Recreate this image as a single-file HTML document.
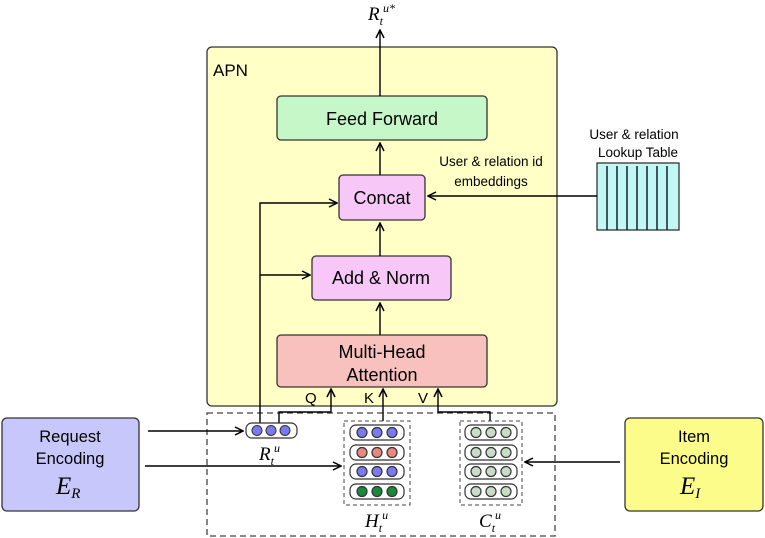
<!DOCTYPE html>
<html><head><style>body{margin:0;background:#fff}svg{display:block;font-family:"Liberation Sans",sans-serif}</style></head><body>
<svg width="765" height="538" viewBox="0 0 765 538">
<defs><marker id="a" markerWidth="10" markerHeight="10" refX="9" refY="5" orient="auto" markerUnits="userSpaceOnUse"><path d="M1,1 L9,5 L1,9" fill="none" stroke="#000" stroke-width="1.5"/></marker></defs>
<rect x="207" y="47" width="350" height="359" rx="5" fill="#ffffc6" stroke="#333" stroke-width="1.3"/>
<text x="213" y="76" font-size="17">APN</text>
<rect x="277" y="96" width="210" height="44" rx="4" fill="#c6f7c8" stroke="#333" stroke-width="1.3"/>
<text x="382" y="125" font-size="18" text-anchor="middle">Feed Forward</text>
<rect x="339" y="175" width="86" height="45" rx="4" fill="#f7c7f7" stroke="#333" stroke-width="1.3"/>
<text x="382" y="204" font-size="18" text-anchor="middle">Concat</text>
<rect x="312" y="256" width="139" height="44" rx="4" fill="#f7c7f7" stroke="#333" stroke-width="1.3"/>
<text x="381" y="284" font-size="18" text-anchor="middle">Add &amp; Norm</text>
<rect x="277" y="335" width="210" height="52" rx="4" fill="#f8c1bd" stroke="#333" stroke-width="1.3"/>
<text x="382" y="358" font-size="18" text-anchor="middle">Multi-Head</text>
<text x="382" y="381" font-size="18" text-anchor="middle">Attention</text>
<rect x="207" y="413" width="348" height="123" fill="none" stroke="#444" stroke-width="1.3" stroke-dasharray="6,4"/>
<rect x="2" y="418" width="137" height="93" rx="5" fill="#c7c7fc" stroke="#333" stroke-width="1.3"/>
<text x="70" y="442" font-size="16.5" text-anchor="middle">Request</text>
<text x="70" y="464" font-size="16.5" text-anchor="middle">Encoding</text>
<text x="56" y="494" font-size="25" font-style="italic" font-family="Liberation Serif">E<tspan font-size="15" dy="4">R</tspan></text>
<rect x="625" y="418" width="138" height="93" rx="5" fill="#fcfc8a" stroke="#333" stroke-width="1.3"/>
<text x="694" y="442" font-size="16.5" text-anchor="middle">Item</text>
<text x="694" y="464" font-size="16.5" text-anchor="middle">Encoding</text>
<text x="680" y="494" font-size="25" font-style="italic" font-family="Liberation Serif">E<tspan font-size="15" dy="4">I</tspan></text>
<text x="634" y="139" font-size="13.5" text-anchor="middle">User &amp; relation</text>
<text x="638" y="157" font-size="13.5" text-anchor="middle">Lookup Table</text>
<rect x="597" y="163" width="82" height="67" fill="#c2f7f4" stroke="#333" stroke-width="1.3"/>
<g stroke="#123" stroke-width="1.5"><line x1="607" y1="166" x2="607" y2="230"/><line x1="617" y1="166" x2="617" y2="230"/><line x1="627" y1="166" x2="627" y2="230"/><line x1="637" y1="166" x2="637" y2="230"/><line x1="647" y1="166" x2="647" y2="230"/><line x1="657" y1="166" x2="657" y2="230"/><line x1="667" y1="166" x2="667" y2="230"/></g>
<text x="491" y="166" font-size="13.5" text-anchor="middle">User &amp; relation id</text>
<text x="491" y="186" font-size="13.5" text-anchor="middle">embeddings</text>
<g fill="none" stroke="#000" stroke-width="1.4">
<line x1="380" y1="96" x2="380" y2="30" marker-end="url(#a)"/>
<line x1="380" y1="175" x2="380" y2="143" marker-end="url(#a)"/>
<line x1="380" y1="256" x2="380" y2="223" marker-end="url(#a)"/>
<line x1="380" y1="335" x2="380" y2="303" marker-end="url(#a)"/>
<line x1="597" y1="196" x2="428" y2="196" marker-end="url(#a)"/>
<polyline points="260,423 260,203 337,203" marker-end="url(#a)"/>
<line x1="260" y1="275" x2="310" y2="275" marker-end="url(#a)"/>
<polyline points="279,423 279,412 331,412 331,389" marker-end="url(#a)"/>
<line x1="383" y1="421" x2="383" y2="389" marker-end="url(#a)"/>
<polyline points="490,421 490,412 438,412 438,389" marker-end="url(#a)"/>
<line x1="148" y1="431" x2="243" y2="431" marker-end="url(#a)"/>
<line x1="145" y1="466" x2="341" y2="466" marker-end="url(#a)"/>
<line x1="620" y1="462" x2="525" y2="462" marker-end="url(#a)"/>
</g>
<text x="305" y="403" font-size="15">Q</text>
<text x="364" y="403" font-size="15">K</text>
<text x="418" y="403" font-size="15">V</text>
<rect x="246" y="423" width="51" height="15" rx="6" fill="#fff" stroke="#333" stroke-width="1.2"/>
<g stroke="#333"><circle cx="257" cy="430.5" r="5" fill="#7a7af0"/><circle cx="271" cy="430.5" r="5" fill="#7a7af0"/><circle cx="285" cy="430.5" r="5" fill="#7a7af0"/></g>
<rect x="344" y="421" width="66" height="84" fill="none" stroke="#444" stroke-dasharray="4,3"/>
<rect x="460" y="421" width="62" height="84" fill="none" stroke="#444" stroke-dasharray="4,3"/>
<g stroke="#333" stroke-width="1.2">
<rect x="350" y="425" width="54" height="15" rx="6" fill="#fff"/><rect x="350" y="445" width="54" height="15" rx="6" fill="#fff"/><rect x="350" y="464" width="54" height="15" rx="6" fill="#fff"/><rect x="350" y="484" width="54" height="15" rx="6" fill="#fff"/>
<circle cx="362" cy="432.5" r="5" fill="#7a7af0"/><circle cx="377" cy="432.5" r="5" fill="#7a7af0"/><circle cx="392" cy="432.5" r="5" fill="#7a7af0"/>
<circle cx="362" cy="452.5" r="5" fill="#e88880"/><circle cx="377" cy="452.5" r="5" fill="#e88880"/><circle cx="392" cy="452.5" r="5" fill="#e88880"/>
<circle cx="362" cy="471.5" r="5" fill="#7a7af0"/><circle cx="377" cy="471.5" r="5" fill="#7a7af0"/><circle cx="392" cy="471.5" r="5" fill="#7a7af0"/>
<circle cx="362" cy="491.5" r="5" fill="#1a8a3a"/><circle cx="377" cy="491.5" r="5" fill="#1a8a3a"/><circle cx="392" cy="491.5" r="5" fill="#1a8a3a"/>
<rect x="465" y="425" width="52" height="15" rx="6" fill="#fff"/><rect x="465" y="445" width="52" height="15" rx="6" fill="#fff"/><rect x="465" y="464" width="52" height="15" rx="6" fill="#fff"/><rect x="465" y="484" width="52" height="15" rx="6" fill="#fff"/>
<g fill="#c8dcc8"><circle cx="476" cy="432.5" r="5"/><circle cx="491" cy="432.5" r="5"/><circle cx="506" cy="432.5" r="5"/><circle cx="476" cy="452.5" r="5"/><circle cx="491" cy="452.5" r="5"/><circle cx="506" cy="452.5" r="5"/><circle cx="476" cy="471.5" r="5"/><circle cx="491" cy="471.5" r="5"/><circle cx="506" cy="471.5" r="5"/><circle cx="476" cy="491.5" r="5"/><circle cx="491" cy="491.5" r="5"/><circle cx="506" cy="491.5" r="5"/></g>
</g>
<g font-family="Liberation Serif" font-style="italic">
<text x="368" y="20" font-size="19">R<tspan font-size="12" dy="5">t</tspan><tspan font-size="12" dy="-13">u*</tspan></text>
<text x="259" y="460" font-size="19">R<tspan font-size="12" dy="5">t</tspan><tspan font-size="12" dy="-13">u</tspan></text>
<text x="365" y="527" font-size="19">H<tspan font-size="12" dy="5">t</tspan><tspan font-size="12" dy="-13">u</tspan></text>
<text x="479" y="527" font-size="19">C<tspan font-size="12" dy="5">t</tspan><tspan font-size="12" dy="-13">u</tspan></text>
</g>
</svg>
</body></html>
